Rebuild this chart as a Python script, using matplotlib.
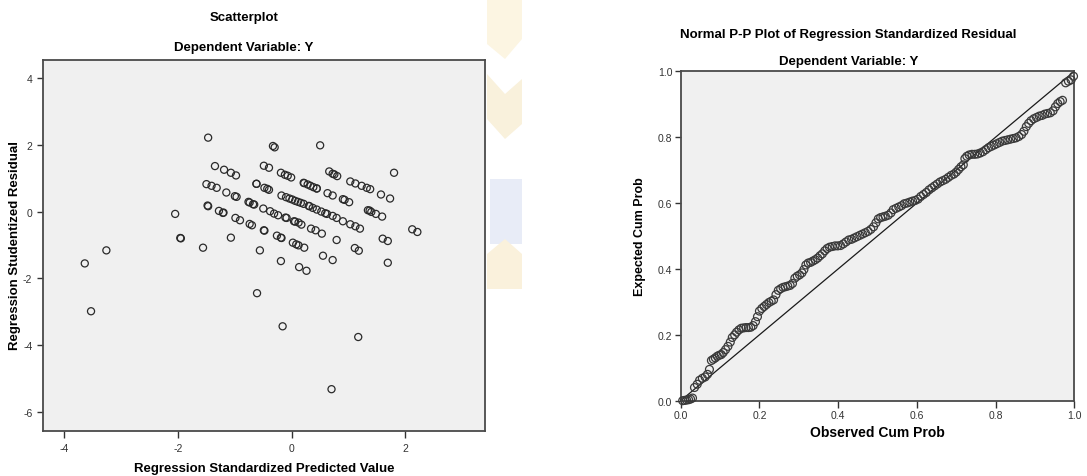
import matplotlib
matplotlib.use("Agg")
import matplotlib.pyplot as plt
from matplotlib.patches import Polygon

# Scatterplot: standardized predicted value vs studentized residual
pred_std = [
    -1.47, -0.33, -0.30, 0.50,
    -1.35, -1.19, -1.07, -0.98, -0.49, -0.40, -0.19, -0.12, -0.07, -0.01,
    0.66, 0.72, 0.75, 0.80, 1.80,
    -1.50, -1.41, -1.32, -1.15, -1.00, -0.97, -0.62, -0.62, -0.48, -0.43, -0.40,
    0.21, 0.22, 0.28, 0.33, 0.38, 0.44, 0.44, 0.63, 0.72, 0.90, 0.93, 1.01,
    1.03, 1.12, 1.23, 1.32, 1.38, 1.57, 1.73,
    -1.48, -1.47, -1.28, -1.21, -1.20, -0.99, -0.91,
    -0.76, -0.74, -0.68, -0.66,
    -0.50, -0.38, -0.31, -0.24, -0.11, -0.09, 0.04, 0.06, 0.12, 0.17,
    -0.18, -0.10, -0.04, 0.01, 0.06, 0.11, 0.16, 0.21, 0.30, 0.31, 0.37, 0.44,
    0.52, 0.59, 0.62, 0.72, 0.79, 0.90, 1.03, 1.12, 1.20,
    1.34, 1.37, 1.40, 1.48, 1.59,
    -0.74, -0.70, -0.48, -0.49, -0.26, -0.19, -0.18,
    0.02, 0.08, 0.12, 0.22, 0.34, 0.42, 0.53, 0.79,
    1.60, 1.69, 2.12, 2.21, 1.11, 1.18,
    -2.05, -1.96, -1.95, -1.56, -1.07, -0.56, -3.26, -3.64, -3.53, -0.61,
    -0.19, 0.13, 0.26, 0.55, 0.72, 1.69,
    -0.16, 1.17, 0.70,
]
resid_stud = [
    2.21, 1.96, 1.92, 1.98,
    1.36, 1.25, 1.16, 1.08, 1.37, 1.31, 1.16, 1.10, 1.07, 1.02,
    1.20, 1.13, 1.11, 1.06, 1.16,
    0.82, 0.77, 0.71, 0.57, 0.46, 0.44, 0.83, 0.83, 0.71, 0.68, 0.65,
    0.86, 0.85, 0.81, 0.77, 0.73, 0.69, 0.69, 0.55, 0.48, 0.37, 0.35, 0.28,
    0.90, 0.84, 0.77, 0.71, 0.67, 0.51, 0.39,
    0.18, 0.16, 0.02, -0.04, -0.03, -0.19, -0.26,
    0.29, 0.27, 0.22, 0.21,
    0.09, 0.01, -0.06, -0.11, -0.18, -0.19, -0.29, -0.30, -0.33, -0.39,
    0.48, 0.43, 0.39, 0.36, 0.32, 0.29, 0.26, 0.23, 0.17, 0.16, 0.11, 0.06,
    0.00, -0.05, -0.07, -0.13, -0.19, -0.29, -0.38, -0.44, -0.51,
    0.04, 0.03, -0.01, -0.07, -0.15,
    -0.37, -0.41, -0.57, -0.56, -0.72, -0.78, -0.79,
    -0.93, -0.98, -1.01, -1.08, -0.51, -0.56, -0.66, -0.85,
    -0.81, -0.88, -0.53, -0.61, -1.09, -1.17,
    -0.07, -0.79, -0.80, -1.08, -0.78, -1.16, -1.16, -1.55, -2.98, -2.44,
    -1.48, -1.66, -1.77, -1.32, -1.45, -1.53,
    -3.43, -3.75, -5.31,
]

# Normal P-P plot: observed vs expected cumulative probability
obs_cum = [
    0.005, 0.010, 0.015, 0.020, 0.025, 0.030, 0.035, 0.042, 0.048, 0.055,
    0.062, 0.068, 0.073, 0.078, 0.083, 0.088, 0.093, 0.098, 0.103, 0.108,
    0.114, 0.120, 0.126, 0.131, 0.137, 0.142, 0.148, 0.154, 0.160, 0.166,
    0.172, 0.178, 0.184, 0.190, 0.195, 0.200, 0.206, 0.212, 0.218, 0.224,
    0.230, 0.236, 0.242, 0.248, 0.254, 0.260, 0.266, 0.272, 0.278, 0.284,
    0.290, 0.296, 0.302, 0.308, 0.313, 0.318, 0.324, 0.330, 0.336, 0.342,
    0.348, 0.354, 0.360, 0.366, 0.372, 0.378, 0.385, 0.392, 0.399, 0.406,
    0.413, 0.420, 0.427, 0.434, 0.441, 0.448, 0.455, 0.462, 0.469, 0.476,
    0.483, 0.490, 0.496, 0.502, 0.508, 0.514, 0.520, 0.527, 0.534, 0.540,
    0.547, 0.554, 0.561, 0.568, 0.575, 0.582, 0.589, 0.596, 0.603, 0.610,
    0.617, 0.624, 0.631, 0.638, 0.645, 0.652, 0.659, 0.666, 0.673, 0.680,
    0.687, 0.694, 0.700, 0.706, 0.712, 0.718, 0.722, 0.727, 0.733, 0.740,
    0.747, 0.754, 0.761, 0.768, 0.775, 0.782, 0.789, 0.796, 0.803, 0.810,
    0.817, 0.824, 0.831, 0.838, 0.845, 0.852, 0.859, 0.866, 0.872, 0.878,
    0.884, 0.890, 0.897, 0.904, 0.911, 0.918, 0.925, 0.932, 0.939, 0.946,
    0.952, 0.958, 0.964, 0.970, 0.978, 0.985, 0.992, 0.998,
]
exp_cum = [
    0.000, 0.001, 0.002, 0.003, 0.005, 0.008, 0.040, 0.050, 0.062, 0.068,
    0.072, 0.080, 0.095, 0.122, 0.126, 0.130, 0.135, 0.138, 0.140, 0.146,
    0.155, 0.165, 0.178, 0.192, 0.200, 0.208, 0.215, 0.220, 0.221, 0.222,
    0.222, 0.223, 0.228, 0.240, 0.255, 0.272, 0.280, 0.286, 0.292, 0.298,
    0.302, 0.306, 0.322, 0.335, 0.340, 0.344, 0.346, 0.348, 0.350, 0.356,
    0.372, 0.378, 0.382, 0.388, 0.398, 0.412, 0.418, 0.420, 0.424, 0.428,
    0.433, 0.440, 0.446, 0.455, 0.462, 0.466, 0.468, 0.470, 0.470, 0.471,
    0.476, 0.482, 0.488, 0.490, 0.494, 0.498, 0.502, 0.506, 0.510, 0.514,
    0.520, 0.528, 0.540, 0.552, 0.556, 0.558, 0.560, 0.563, 0.570, 0.580,
    0.584, 0.588, 0.592, 0.598, 0.600, 0.603, 0.606, 0.608, 0.612, 0.620,
    0.626, 0.632, 0.640, 0.646, 0.652, 0.658, 0.664, 0.668, 0.672, 0.678,
    0.684, 0.688, 0.694, 0.702, 0.710, 0.716, 0.735, 0.742, 0.746, 0.748,
    0.748, 0.749, 0.752, 0.756, 0.762, 0.768, 0.772, 0.776, 0.780, 0.784,
    0.788, 0.790, 0.792, 0.794, 0.796, 0.798, 0.802, 0.808, 0.818, 0.832,
    0.842, 0.850, 0.856, 0.860, 0.864, 0.866, 0.870, 0.872, 0.874, 0.880,
    0.892, 0.902, 0.908, 0.912, 0.965, 0.970, 0.974, 0.985,
]

narrow = ['Liberation Sans Narrow', 'Liberation Sans', 'DejaVu Sans']
wide = ['Liberation Sans', 'DejaVu Sans']
plt.rcParams['font.family'] = wide
plt.rcParams['axes.unicode_minus'] = False

W, H = 1087, 477
fig = plt.figure(figsize=(W / 100, H / 100), dpi=100)
fig.patch.set_facecolor('white')

def px(x, y):
    return x / W, 1 - y / H

def estilo_eixo(ax):
    ax.set_facecolor('#f0f0f0')
    for s in ax.spines.values():
        s.set_color('#4a4a4a')
        s.set_linewidth(1.3)
    ax.tick_params(direction='out', length=4, width=1, colors='#333333')

# marca d'agua bem clarinha entre os dois graficos (chevrons amarelos + faixa azul)
formas = [
    ([(487, 0), (522, 0), (522, 40), (505, 60), (487, 45)], '#fcf5e2'),
    ([(487, 75), (505, 95), (522, 80), (522, 125), (505, 140), (487, 120)], '#f9f1dc'),
    ([(490, 180), (522, 180), (522, 245), (490, 245)], '#e8ecf7'),
    ([(487, 255), (505, 240), (522, 255), (522, 290), (487, 290)], '#faf1dc'),
]
for pts, cor in formas:
    fig.patches.append(Polygon([px(x, y) for x, y in pts], closed=True,
                               transform=fig.transFigure, facecolor=cor,
                               edgecolor='none', zorder=0))

# ---------- grafico da esquerda ----------
ax1 = fig.add_axes([42.7 / W, 1 - 432 / H, (485.3 - 42.7) / W, (432 - 60.7) / H])
estilo_eixo(ax1)
ax1.scatter(pred_std, resid_stud, s=26, facecolors='none', edgecolors='#2a2a2a', linewidths=0.9)
ax1.set_xlim(-4.38, 3.405)
ax1.set_ylim(-6.56, 4.54)
ax1.set_xticks([-4, -2, 0, 2])
ax1.set_yticks([-6, -4, -2, 0, 2, 4])
ax1.tick_params(axis='x', length=5, pad=4)
for lbl in ax1.get_xticklabels() + ax1.get_yticklabels():
    lbl.set_family(narrow)
    lbl.set_fontsize(7.5)

fig.text(*px(244, 18), 'Scatterplot', ha='center', va='center', fontsize=9.5,
         fontweight='bold', family=narrow)
fig.text(*px(244, 48), 'Dependent Variable: Y', ha='center', va='center', fontsize=9.5,
         fontweight='bold', family=narrow)
fig.text(*px(264, 469), 'Regression Standardized Predicted Value', ha='center', va='center',
         fontsize=9.5, fontweight='bold', family=narrow)
fig.text(*px(15, 246), 'Regression Studentized Residual', ha='center', va='center',
         fontsize=9.5, fontweight='bold', rotation=90, family=wide)

# ---------- grafico da direita ----------
ax2 = fig.add_axes([680.7 / W, 1 - 401.7 / H, (1074.3 - 680.7) / W, (401.7 - 72.3) / H])
estilo_eixo(ax2)
ax2.plot([0, 1], [0, 1], color='#1a1a1a', linewidth=0.9)
ax2.scatter(obs_cum, exp_cum, s=32, facecolors='none', edgecolors='#3a3a3a', linewidths=0.9,
            clip_on=False, zorder=3)
ax2.set_xlim(0, 1)
ax2.set_ylim(0, 1)
ax2.set_xticks([0, 0.2, 0.4, 0.6, 0.8, 1.0])
ax2.set_yticks([0, 0.2, 0.4, 0.6, 0.8, 1.0])
ax2.set_xticklabels(['0.0', '0.2', '0.4', '0.6', '0.8', '1.0'])
ax2.set_yticklabels(['0.0', '0.2', '0.4', '0.6', '0.8', '1.0'])
ax2.tick_params(axis='both', labelsize=7.5, pad=2)
ax2.tick_params(axis='x', length=5)

fig.text(*px(848, 35), 'Normal P-P Plot of Regression Standardized Residual', ha='center',
         va='center', fontsize=9.5, fontweight='bold')
fig.text(*px(849, 62), 'Dependent Variable: Y', ha='center', va='center', fontsize=9.5,
         fontweight='bold')
fig.text(*px(877, 433), 'Observed Cum Prob', ha='center', va='center', fontsize=10,
         fontweight='bold')
fig.text(*px(640, 237), 'Expected Cum Prob', ha='center', va='center', fontsize=9,
         fontweight='bold', rotation=90)

fig.savefig('out.png', dpi=100, facecolor='white')
